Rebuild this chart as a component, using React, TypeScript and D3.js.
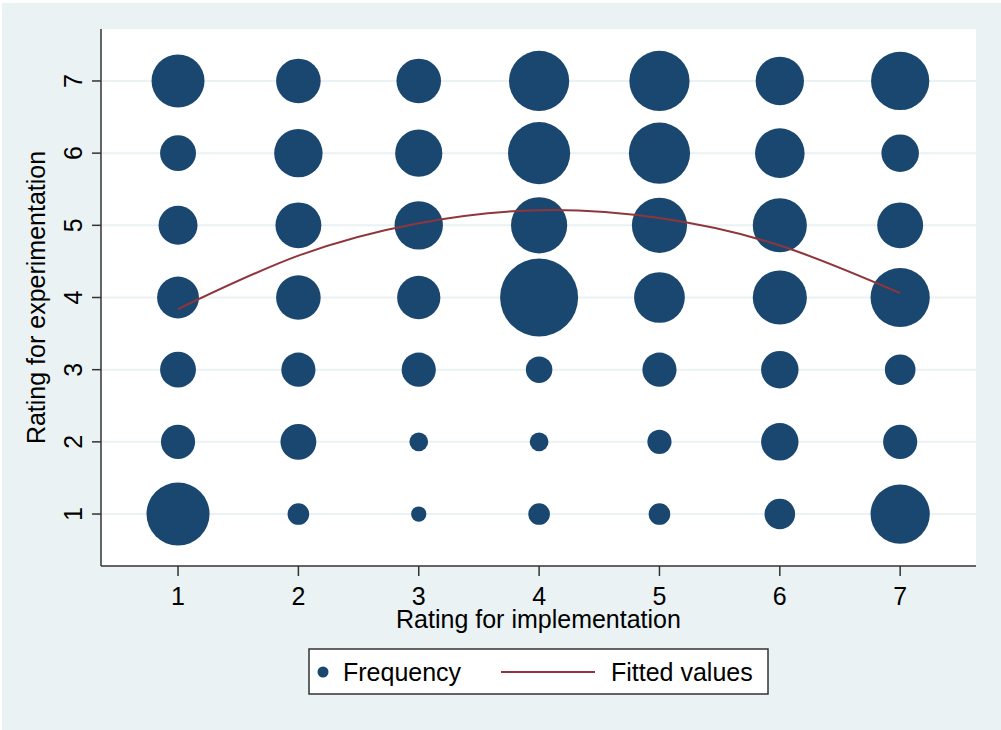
import * as d3 from 'd3';
import React from 'react';

// Ratings on both axes
const ratings = [1, 2, 3, 4, 5, 6, 7];

// Frequency of each (implementation, experimentation) pair, one array per experimentation rating,
// values listed for implementation ratings 1..7
const freqExp1 = [34, 4, 2, 4, 4, 8, 30];
const freqExp2 = [10, 11, 3, 3, 5, 12, 10];
const freqExp3 = [11, 10, 10, 6, 10, 12, 8];
const freqExp4 = [15, 17, 16, 52, 22, 25, 30];
const freqExp5 = [13, 18, 20, 27, 26, 25, 18];
const freqExp6 = [11, 20, 19, 33, 32, 21, 12];
const freqExp7 = [24, 17, 17, 31, 31, 20, 29];

// Quadratic fitted values at implementation 1..7
const fittedValues = [3.84, 4.58, 5.03, 5.21, 5.1, 4.72, 4.06];

const xTitle = 'Rating for implementation';
const yTitle = 'Rating for experimentation';
const legendLabels = ['Frequency', 'Fitted values'];

const navy = '#1a476f';
const maroon = '#90353b';
const regionBg = '#eaf2f3';
const font = '"Liberation Sans", Arial, sans-serif';

const App: React.FC = () => {
    const width = 1001;
    const height = 730;
    const margin = { top: 29, right: 25, bottom: 164, left: 101 };

    const x = d3
        .scaleLinear()
        .domain([0.36, 7.63])
        .range([margin.left, width - margin.right]);

    const y = d3
        .scaleLinear()
        .domain([0.28, 7.72])
        .range([height - margin.bottom, margin.top]);

    const rows = [freqExp1, freqExp2, freqExp3, freqExp4, freqExp5, freqExp6, freqExp7];
    const points = rows.flatMap((row, i) =>
        row.map((f, j) => ({ impl: ratings[j], exp: ratings[i], freq: f }))
    );

    const r = d3
        .scaleSqrt()
        .domain([0, d3.max(points, d => d.freq)!])
        .range([0, 39]);

    const fitLine = d3
        .line<number>()
        .x((_, i) => x(ratings[i]))
        .y(d => y(d))
        .curve(d3.curveNatural);

    const [x0, x1] = x.range();
    const [yb, yt] = y.range();

    return (
        <svg
            width={width}
            height={height}
            style={{ position: 'absolute', left: 0, top: 0, fontFamily: font }}
        >
            <rect x={0} y={0} width={width} height={height} fill="#fff" />
            <rect x={2} y={3} width={width - 2} height={height - 3} fill={regionBg} />
            <rect x={x0} y={yt} width={x1 - x0} height={yb - yt} fill="#fff" />

            {/* horizontal grid lines */}
            {ratings.map(v => (
                <line key={`g${v}`} x1={x0} x2={x1} y1={y(v)} y2={y(v)} stroke={regionBg} strokeWidth={2} />
            ))}

            {/* bubbles */}
            {points.map((d, i) => (
                <circle key={i} cx={x(d.impl)} cy={y(d.exp)} r={r(d.freq)} fill={navy} />
            ))}

            {/* fitted line */}
            <path d={fitLine(fittedValues)!} fill="none" stroke={maroon} strokeWidth={2} />

            {/* axes */}
            <line x1={x0} x2={x0} y1={yt} y2={yb} stroke="#333" strokeWidth={1.5} />
            <line x1={x0} x2={x1} y1={yb} y2={yb} stroke="#333" strokeWidth={1.5} />

            {ratings.map(v => (
                <g key={`xt${v}`}>
                    <line x1={x(v)} x2={x(v)} y1={yb} y2={yb + 10} stroke="#333" strokeWidth={1.5} />
                    <text x={x(v)} y={605} textAnchor="middle" fontSize={25} fill="#000">
                        {v}
                    </text>
                </g>
            ))}

            {ratings.map(v => (
                <g key={`yt${v}`}>
                    <line x1={x0 - 9} x2={x0} y1={y(v)} y2={y(v)} stroke="#333" strokeWidth={1.5} />
                    <text
                        transform={`translate(82,${y(v)}) rotate(-90)`}
                        textAnchor="middle"
                        fontSize={25}
                        fill="#000"
                    >
                        {v}
                    </text>
                </g>
            ))}

            <text x={(x0 + x1) / 2} y={628} textAnchor="middle" fontSize={25} fill="#000">
                {xTitle}
            </text>
            <text
                transform={`translate(45,${(yt + yb) / 2}) rotate(-90)`}
                textAnchor="middle"
                fontSize={25}
                fill="#000"
            >
                {yTitle}
            </text>

            {/* legend */}
            <g>
                <rect x={309} y={649} width={459} height={45} fill="#fff" stroke="#333" strokeWidth={1.5} />
                <circle cx={323} cy={672} r={5.5} fill={navy} />
                <text x={343} y={681} fontSize={25} fill="#000">
                    {legendLabels[0]}
                </text>
                <line x1={501} x2={595} y1={672} y2={672} stroke={maroon} strokeWidth={2} />
                <text x={611} y={681} fontSize={25} fill="#000">
                    {legendLabels[1]}
                </text>
            </g>
        </svg>
    );
};

export default App;
